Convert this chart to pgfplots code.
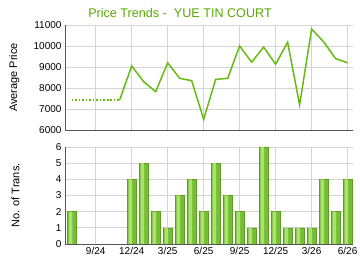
\documentclass[border=0pt]{standalone}
\usepackage{pgfplots}
\pgfplotsset{compat=1.18}
\usepackage{fontspec}
\setmainfont{Liberation Sans}
\definecolor{titlegreen}{HTML}{5AA800}
\definecolor{linegreen}{HTML}{66BB11}
\definecolor{barlight}{HTML}{AEDF72}
\definecolor{barmid}{HTML}{76BE36}
\definecolor{baredge}{HTML}{5CA01E}
\definecolor{gridgray}{HTML}{D4D4D4}
\definecolor{axisgray}{HTML}{555555}
\pgfplotstableread{
x y
0 2
1 0
2 0
3 0
4 0
5 4
6 5
7 2
8 1
9 3
10 4
11 2
12 5
13 3
14 2
15 1
16 6
17 2
18 1
19 1
20 1
21 4
22 2
23 4
}\transdata
\begin{document}
\begin{tikzpicture}
\path[use as bounding box] (0bp,0bp) rectangle (360bp,270bp);
\node[text=titlegreen, font=\fontsize{12.6bp}{14bp}\selectfont] at (180bp,257bp) {Price Trends -\ \ YUE TIN COURT};
\pgfplotsset{
  common/.style={
    scale only axis, width=288bp, anchor=south west,
    xmin=-0.56, xmax=23.45,
    axis x line*=bottom, axis y line*=left,
    axis line style={axisgray, line width=0.8pt},
    xtick={2,5,8,11,14,17,20,23},
    xtick style={draw=none}, ytick style={draw=none},
    grid=major, major grid style={gridgray, line width=0.9pt},
    scaled ticks=false,
    tick label style={font=\fontsize{10bp}{12bp}\selectfont, text=black},
    /pgf/number format/assume math mode=true,
    /pgf/number format/1000 sep={},
    label style={font=\fontsize{11bp}{13bp}\selectfont},
  }
}
\begin{axis}[common, at={(65bp,140bp)}, height=105bp,
  ymin=6000, ymax=11000, ytick={6000,7000,...,11000},
  xticklabels={},
  ylabel={Average Price},
  ylabel style={at={(axis description cs:0,0.5)}, anchor=south, yshift=42bp}]
\addplot[linegreen, line width=1.5pt, dotted] coordinates {
(0,7430) (1,7430) (2,7430) (3,7430) (4,7430)};
\addplot[linegreen, line width=1.5pt] coordinates {
(4,7430) (5,9050) (6,8300) (7,7825) (8,9200) (9,8460) (10,8350) (11,6510)
(12,8410) (13,8460) (14,10000) (15,9230) (16,9950) (17,9130) (18,10180)
(19,7200) (20,10810) (21,10200) (22,9400) (23,9200)};
\end{axis}
\begin{axis}[common, at={(65bp,26bp)}, height=97bp,
  ymin=0, ymax=6, ytick={0,1,...,6},
  xticklabels={9/24,12/24,3/25,6/25,9/25,12/25,3/26,6/26},
  ylabel={No. of Trans.},
  ylabel style={at={(axis description cs:0,0.5)}, anchor=south, yshift=42bp}]
\addplot[ybar, bar width=9bp, bar shift=0bp, draw=baredge, line width=0.4pt, fill=barmid] table[x=x,y=y] {\transdata};
\addplot[ybar, bar width=3.5bp, bar shift=-1.2bp, draw=none, fill=barlight] table[x=x,y=y] {\transdata};
\end{axis}
\end{tikzpicture}
\end{document}
